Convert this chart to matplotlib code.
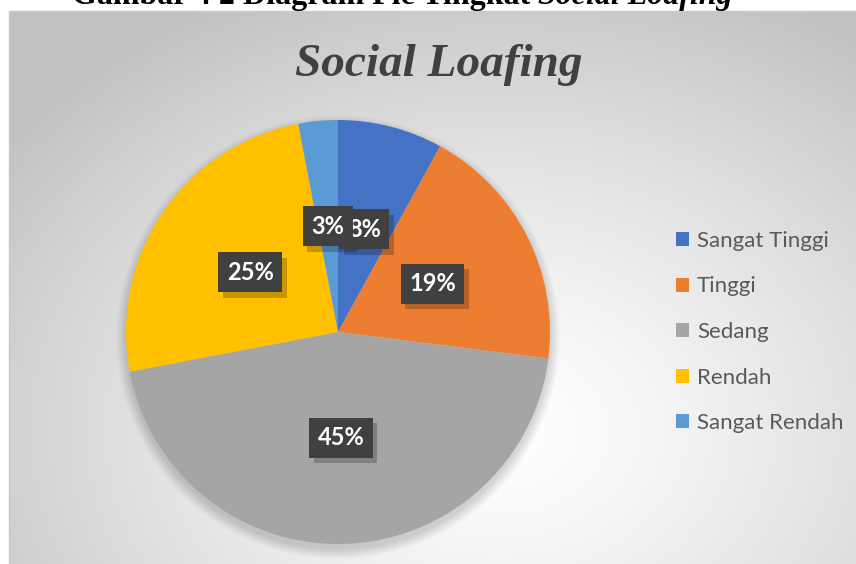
import numpy as np
import matplotlib.pyplot as plt
from matplotlib.patches import Patch, Circle

# data
categories = ['Sangat Tinggi', 'Tinggi', 'Sedang', 'Rendah', 'Sangat Rendah']
percent = [8, 19, 45, 25, 3]
colors = ['#4472C4', '#ED7D31', '#A5A5A5', '#FFC000', '#5B9BD5']

W, H = 856, 564
fig = plt.figure(figsize=(W / 100, H / 100), dpi=100)
renderer = fig.canvas.get_renderer()

# background: white page + chart box with radial gradient
bg = fig.add_axes([0, 0, 1, 1])
yy, xx = np.mgrid[0:H, 0:W]
cx, cy = 500, 430
d = np.sqrt(((xx - cx) / 620.0) ** 2 + ((yy - cy) / 480.0) ** 2)
d = np.clip(d, 0, 1)
val = 1.0 - 0.24 * d ** 1.3
inside = (xx >= 9) & (yy >= 11)
img = np.where(inside, val, 1.0)
bg.imshow(np.dstack([img, img, img]), extent=(0, W, H, 0), interpolation='bilinear')
bg.plot([9, 9, W], [H, 11, 11], color='#C8C8C8', lw=1)
bg.set_xlim(0, W)
bg.set_ylim(H, 0)
bg.axis('off')

# caption above the chart (cut off at the top)
cap1 = bg.text(72, 4, 'Gambar 4 2 Diagram Pie Tingkat ', fontsize=23, fontweight='bold',
               family='Liberation Serif', va='baseline', ha='left', color='black')
x_end = cap1.get_window_extent(renderer).x1
cap2 = bg.text(x_end, 4, 'Social Loafing', fontsize=23, fontweight='bold', style='italic',
               family='Liberation Serif', va='baseline', ha='left', color='black')

# chart title
bg.text(439, 76, 'Social Loafing', fontsize=34, fontweight='bold', style='italic',
        family='Liberation Serif', color='#404040', ha='center', va='baseline')

# pie (axes larger than the pie so the soft shadow is not clipped)
R = 212
pad = 1.3
ax = fig.add_axes([(338 - R * pad) / W, (H - 332 - R * pad) / H, 2 * R * pad / W, 2 * R * pad / H])
ax.set_zorder(1)
ax.patch.set_alpha(0)
for i in range(10):
    ax.add_patch(Circle((0.0, -0.025), 1.0 + 0.005 * i, color='black', alpha=0.015, lw=0, zorder=0))
wedges, _ = ax.pie(percent, colors=colors, startangle=90, counterclock=False,
                   radius=1.0, wedgeprops=dict(linewidth=0))
ax.set_xlim(-pad, pad)
ax.set_ylim(-pad, pad)

for w, p in zip(wedges, percent):
    ang = np.deg2rad((w.theta1 + w.theta2) / 2)
    x, y = 0.5 * np.cos(ang), 0.5 * np.sin(ang)
    # shadow
    ax.text(x + 0.02, y - 0.025, f'{p}%', fontsize=17, fontweight='bold', family='Lato',
            color=(0, 0, 0, 0), ha='center', va='center', zorder=5,
            bbox=dict(boxstyle='square,pad=0.36', fc='black', ec='none', alpha=0.22))
    ax.text(x, y, f'{p}%', fontsize=17, fontweight='bold', family='Lato',
            color='white', ha='center', va='center', zorder=6,
            bbox=dict(boxstyle='square,pad=0.36', fc='#404040', ec='none', lw=0))

# legend
handles = [Patch(facecolor=c, edgecolor='none', label=l) for c, l in zip(colors, categories)]
leg = fig.legend(handles=handles, loc='center left', bbox_to_anchor=(676 / W, (H - 332) / H),
                 frameon=False, fontsize=16, labelspacing=1.15, handlelength=0.6,
                 handleheight=0.6, handletextpad=0.35, borderpad=0, borderaxespad=0)
for t in leg.get_texts():
    t.set_color('#595959')
    t.set_family('Lato')

fig.savefig('out.png', dpi=100)
